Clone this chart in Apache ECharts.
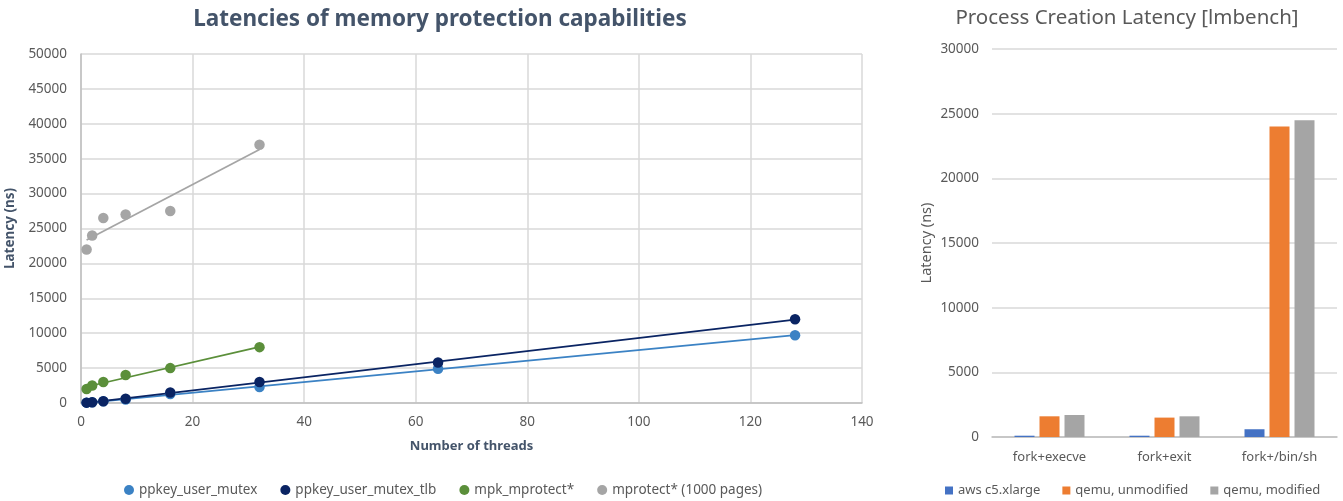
<!DOCTYPE html>
<html>
<head>
<meta charset="utf-8">
<script src="https://cdn.jsdelivr.net/npm/echarts@6/dist/echarts.min.js"></script>
<style>
  html, body { margin: 0; padding: 0; background: #fff; }
  #chart { width: 1343px; height: 501px; }
</style>
</head>
<body>
<div id="chart"></div>
<script>
// left chart: latency vs number of threads
var threads = [1, 2, 4, 8, 16, 32, 64, 128];
var ppkeyUserMutex = [50, 100, 250, 500, 1300, 2300, 4900, 9700];
var ppkeyUserMutexTlb = [50, 100, 250, 600, 1500, 3000, 5800, 12000];
var mpkThreads = [1, 2, 4, 8, 16, 32];
var mpkMprotect = [2000, 2500, 3000, 4000, 5000, 8000];
var mprotect1000 = [22000, 24000, 26500, 27000, 27500, 37000];

// right chart: process creation latency
var procCategories = ['fork+execve', 'fork+exit', 'fork+/bin/sh'];
var awsC5 = [100, 100, 600];
var qemuUnmodified = [1600, 1500, 24000];
var qemuModified = [1700, 1600, 24500];

var font = 'Noto Sans';
var grey = '#595959';

function pairs(xs, ys) {
    return xs.map(function (x, i) { return [x, ys[i]]; });
}

// least squares line, like the excel trendline
function trend(xs, ys) {
    var n = xs.length, sx = 0, sy = 0, sxx = 0, sxy = 0;
    for (var i = 0; i < n; i++) {
        sx += xs[i]; sy += ys[i];
        sxx += xs[i] * xs[i]; sxy += xs[i] * ys[i];
    }
    var b = (n * sxy - sx * sy) / (n * sxx - sx * sx);
    var a = (sy - b * sx) / n;
    var x0 = Math.min.apply(null, xs), x1 = Math.max.apply(null, xs);
    return [[x0, a + b * x0], [x1, a + b * x1]];
}

function plain(v) { return String(v); }

var scatterColors = ['#3B82C4', '#0A2463', '#5B8F3A', '#A5A5A5'];
var scatterNames = ['ppkey_user_mutex', 'ppkey_user_mutex_tlb', 'mpk_mprotect*', 'mprotect* (1000 pages)'];
var scatterX = [threads, threads, mpkThreads, mpkThreads];
var scatterY = [ppkeyUserMutex, ppkeyUserMutexTlb, mpkMprotect, mprotect1000];

var series = [];
for (var i = 0; i < scatterNames.length; i++) {
    series.push({
        name: scatterNames[i] + ' trend',
        type: 'line',
        xAxisIndex: 0, yAxisIndex: 0,
        data: trend(scatterX[i], scatterY[i]),
        showSymbol: false,
        lineStyle: { color: scatterColors[i], width: 1.75 },
        z: 2,
        silent: true
    });
}
for (var i = 0; i < scatterNames.length; i++) {
    series.push({
        name: scatterNames[i],
        type: 'scatter',
        xAxisIndex: 0, yAxisIndex: 0,
        data: pairs(scatterX[i], scatterY[i]),
        symbolSize: 10.5,
        itemStyle: { color: scatterColors[i], opacity: 1 },
        z: 3 + i
    });
}

var barNames = ['aws c5.xlarge', 'qemu, unmodified', 'qemu, modified'];
var barColors = ['#4472C4', '#ED7D31', '#A5A5A5'];
var barValues = [awsC5, qemuUnmodified, qemuModified];
for (var i = 0; i < barNames.length; i++) {
    series.push({
        name: barNames[i],
        type: 'bar',
        xAxisIndex: 1, yAxisIndex: 1,
        data: barValues[i],
        barWidth: 20,
        barGap: '25%',
        itemStyle: { color: barColors[i] }
    });
}

var option = {
    animation: false,
    textStyle: { fontFamily: font },
    title: [
        {
            text: 'Latencies of memory protection capabilities',
            left: 435, top: 3, textAlign: 'center',
            textStyle: { fontFamily: font, fontSize: 22.5, fontWeight: 'bold', color: '#44546A' }
        },
        {
            text: 'Process Creation Latency [lmbench]',
            left: 1122, top: 3, textAlign: 'center',
            textStyle: { fontFamily: font, fontSize: 20.5, fontWeight: 'normal', color: grey }
        }
    ],
    legend: [
        {
            data: scatterNames,
            left: 119, bottom: -1,
            icon: 'circle', itemWidth: 10, itemHeight: 10, itemGap: 23,
            textStyle: { fontFamily: font, fontSize: 13.5, color: grey }
        },
        {
            data: barNames,
            left: 940, bottom: -1,
            icon: 'rect', itemWidth: 8, itemHeight: 8, itemGap: 22,
            textStyle: { fontFamily: font, fontSize: 13, color: grey }
        }
    ],
    grid: [
        { left: 81, right: 481, top: 54, bottom: 98, outerBoundsMode: 'none' },
        { left: 992, right: 6, top: 49, bottom: 64, outerBoundsMode: 'none' }
    ],
    xAxis: [
        {
            type: 'value', gridIndex: 0,
            min: 0, max: 140, interval: 20,
            name: 'Number of threads', nameLocation: 'middle', nameGap: 37,
            nameTextStyle: { fontFamily: font, fontSize: 13, fontWeight: 'bold', color: '#44546A' },
            axisLine: { lineStyle: { color: '#BFBFBF', width: 1.5 } },
            axisTick: { show: false },
            axisLabel: { fontSize: 13.5, color: grey, margin: 12, formatter: plain },
            splitLine: { show: true, lineStyle: { color: '#D9D9D9', width: 1.5 } }
        },
        {
            type: 'category', gridIndex: 1,
            data: procCategories,
            axisLine: { lineStyle: { color: '#BFBFBF', width: 1.5 } },
            axisTick: { show: false },
            axisLabel: { fontSize: 13, color: grey, margin: 14 }
        }
    ],
    yAxis: [
        {
            type: 'value', gridIndex: 0,
            min: 0, max: 50000, interval: 5000,
            name: 'Latency (ns)', nameLocation: 'middle', nameGap: 58,
            nameTextStyle: { fontFamily: font, fontSize: 13.5, fontWeight: 'bold', color: '#44546A' },
            axisLine: { show: true, lineStyle: { color: '#BFBFBF', width: 1.5 } },
            axisTick: { show: false },
            axisLabel: { fontSize: 13.5, color: grey, margin: 14, formatter: plain },
            splitLine: { lineStyle: { color: '#D9D9D9', width: 1.5 } }
        },
        {
            type: 'value', gridIndex: 1,
            min: 0, max: 30000, interval: 5000,
            name: 'Latency (ns)', nameLocation: 'middle', nameGap: 58,
            nameTextStyle: { fontFamily: font, fontSize: 14.5, color: grey },
            axisLine: { show: false },
            axisTick: { show: false },
            axisLabel: { fontSize: 13.5, color: grey, margin: 13, formatter: plain },
            splitLine: { lineStyle: { color: '#D9D9D9', width: 1.5 } }
        }
    ],
    series: series
};

var chart = echarts.init(document.getElementById('chart'));
chart.setOption(option);
</script>
</body>
</html>
